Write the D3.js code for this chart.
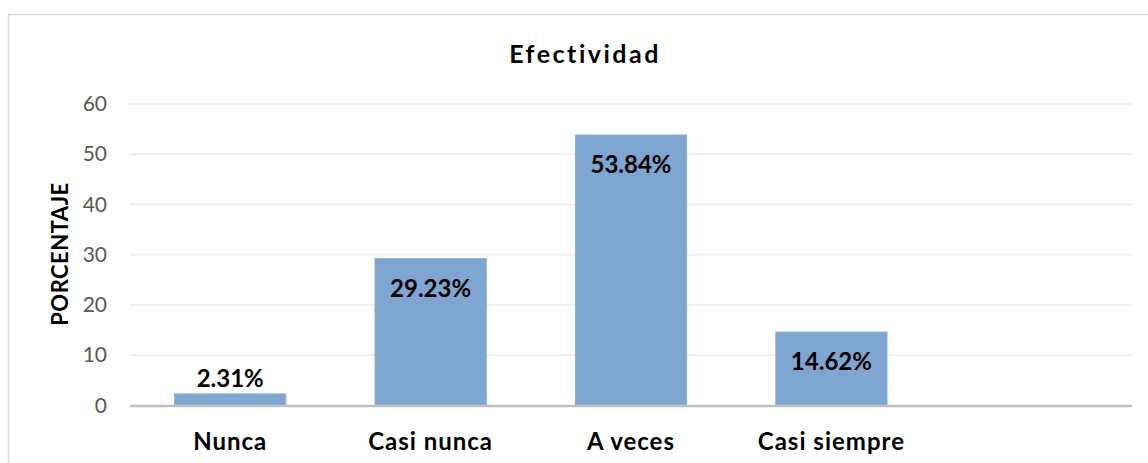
<!DOCTYPE html>
<html>
<head>
<meta charset="utf-8">
<script src="https://cdn.jsdelivr.net/npm/d3@7"></script>
<style>
  body { margin: 0; background: #fff; }
  text { font-family: Lato, "Open Sans", sans-serif; }
</style>
</head>
<body>
<script>
const categories = ["Nunca", "Casi nunca", "A veces", "Casi siempre", ""];
const values = [2.31, 29.23, 53.84, 14.62, null];
const yTicks = [0, 10, 20, 30, 40, 50, 60];

const W = 1148, H = 463;
const svg = d3.select("body").append("svg").attr("width", W).attr("height", H);

// chart border (right/bottom run off the picture)
svg.append("rect")
  .attr("x", 8.5).attr("y", 14.5)
  .attr("width", 1154).attr("height", 470)
  .attr("fill", "none").attr("stroke", "#d9d9d9").attr("stroke-width", 1.5);

const x = d3.scaleBand().domain(categories.map((d, i) => i)).range([130, 1132]).paddingInner(0.445).paddingOuter(0.2225);
const y = d3.scaleLinear().domain([0, 60]).range([405.5, 104]);

// gridlines
svg.append("g").selectAll("line").data(yTicks.slice(1)).join("line")
  .attr("x1", 130).attr("x2", 1132)
  .attr("y1", d => y(d)).attr("y2", d => y(d))
  .attr("stroke", "#ececec").attr("stroke-width", 1.5);

// y tick labels
svg.append("g").selectAll("text").data(yTicks).join("text")
  .attr("x", 107).attr("y", d => y(d) + 7)
  .attr("text-anchor", "end")
  .attr("fill", "#595959").attr("font-size", 21)
  .text(d => d);

// bars
const data = categories.map((c, i) => ({ c, i, v: values[i] })).filter(d => d.v != null);
svg.append("g").selectAll("rect").data(data).join("rect")
  .attr("x", d => x(d.i)).attr("width", x.bandwidth())
  .attr("y", d => y(d.v)).attr("height", d => y(0) - y(d.v))
  .attr("fill", "#7fa6d1").attr("stroke", "#8db0d6").attr("stroke-width", 1);

// baseline axis
svg.append("line")
  .attr("x1", 130).attr("x2", 1132)
  .attr("y1", y(0) + 0.5).attr("y2", y(0) + 0.5)
  .attr("stroke", "#bfbfbf").attr("stroke-width", 2.5);

// value labels
svg.append("g").selectAll("text").data(data).join("text")
  .attr("x", d => x(d.i) + x.bandwidth() / 2)
  .attr("y", d => (y(0) - y(d.v) > 40 ? y(d.v) + 38 : y(d.v) - 7))
  .attr("text-anchor", "middle")
  .attr("font-size", 24).attr("font-weight", "bold").attr("fill", "#000")
  .text(d => d.v.toFixed(2) + "%");

// category labels
svg.append("g").selectAll("text").data(categories).join("text")
  .attr("x", (d, i) => x(i) + x.bandwidth() / 2)
  .attr("y", 450)
  .attr("text-anchor", "middle")
  .attr("font-size", 24).attr("font-weight", "bold")
  .attr("letter-spacing", 1).attr("fill", "#000")
  .text(d => d);

// title
svg.append("text")
  .attr("x", 585).attr("y", 63)
  .attr("text-anchor", "middle")
  .attr("font-size", 25).attr("font-weight", "bold")
  .attr("letter-spacing", 2.5).attr("fill", "#000")
  .text("Efectividad");

// y axis title
svg.append("text")
  .attr("transform", "translate(68,254) rotate(-90)")
  .attr("text-anchor", "middle")
  .attr("font-size", 22).attr("font-weight", "bold")
  .attr("letter-spacing", 0.5).attr("fill", "#000")
  .text("PORCENTAJE");
</script>
</body>
</html>
